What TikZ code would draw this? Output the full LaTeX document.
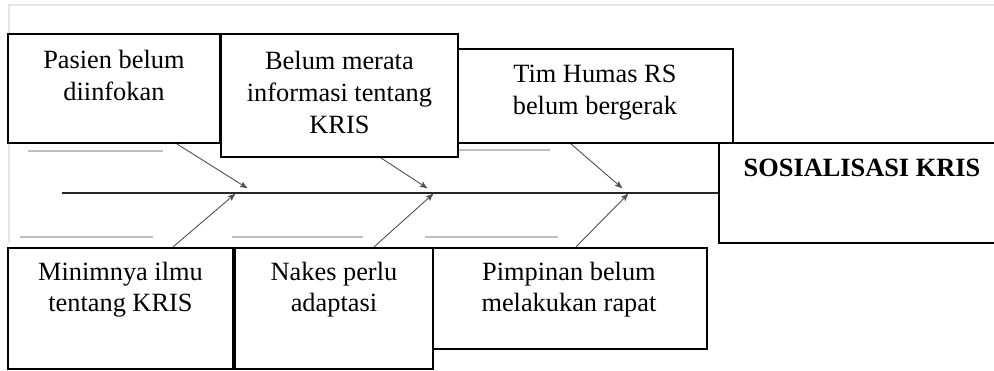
\documentclass[tikz,border=0pt]{standalone}
\usepackage{fontspec}
\setmainfont{Liberation Serif}
\usetikzlibrary{arrows,calc,positioning}

\newcommand{\cell}[1]{\begin{tabular}[t]{@{}c@{}}#1\end{tabular}}

\begin{document}
\begin{tikzpicture}[x=0.02cm,y=-0.02cm,>=stealth',
                    box/.style={draw,line width=1.1pt,fill=white,inner sep=0pt,
                                anchor=north west},
                    cause/.style={font=\fontsize{15}{18}\selectfont,inner sep=0pt,
                                  anchor=base},
                    bone/.style={->,draw=black!70,line width=0.5pt},
                    spine/.style={draw=black!85,line width=0.85pt},
                    ghost/.style={draw=black!25,line width=0.6pt}]

  \path[use as bounding box,clip] (0,0) rectangle (994,371);

  \draw[draw=black!10,line width=0.6pt] (9,243) -- (9,5) -- (994,5);
  \draw[ghost] (28,151) -- (163,151)  (457,150) -- (550,150);
  \draw[ghost] (20,237) -- (153,237)  (232,237) -- (363,237)
               (425,237) -- (558,237);

  \node[box,minimum width=5.52cm,minimum height=1.88cm] (C) at (456,48)  {};
  \node[box,minimum width=4.24cm,minimum height=2.18cm] (A) at (7,33)    {};
  \node[box,minimum width=4.74cm,minimum height=2.46cm] (B) at (220,33)  {};
  \node[box,minimum width=5.76cm,minimum height=2.00cm] (D) at (718,142) {};
  \node[box,minimum width=5.52cm,minimum height=2.02cm] (G) at (430,247) {};
  \node[box,minimum width=4.50cm,minimum height=2.42cm] (E) at (7,247)   {};
  \node[box,minimum width=3.96cm,minimum height=2.42cm] (F) at (234,247) {};

  \node[cause] (tA) at ($(A.north)+(0,36)$) {\cell{Pasien belum\\diinfokan}};
  \node[cause] (tB) at ($(B.north)+(0,37)$) {\cell{Belum merata\\informasi tentang\\KRIS}};
  \node[cause] (tC) at ($(C.north)+(0,35)$) {\cell{Tim Humas RS\\belum bergerak}};
  \node[cause] (tD) at ($(D.north west)+(144,35)$) {\textbf{SOSIALISASI KRIS}};
  \node[cause] (tE) at ($(E.north)+(0,33)$) {\cell{Minimnya ilmu\\tentang KRIS}};
  \node[cause] (tF) at ($(F.north)+(0,33)$) {\cell{Nakes perlu\\adaptasi}};
  \node[cause] (tG) at ($(G.north)+(0,33)$) {\cell{Pimpinan belum\\melakukan rapat}};

  \coordinate (tail) at (62,193);
  \coordinate (u1) at (247,188);
  \coordinate (u2) at (427,188);
  \coordinate (u3) at (622,188);
  \coordinate (l1) at (235,194);
  \coordinate (l2) at (433,194);
  \coordinate (l3) at (628,194);

  \draw[spine] (tail) -- (tail -| D.west);

  \path ($(A.south east)+(-44,0)$) edge[bone] (u1)
        ($(B.south)+(41.5,0)$)     edge[bone] (u2)
        ($(C.south)+(-24,0)$)      edge[bone] (u3)
        ($(E.north)+(52.5,0)$)     edge[bone] (l1)
        ($(F.north)+(40,0)$)       edge[bone] (l2)
        ($(G.north)+(7,0)$)        edge[bone] (l3);
\end{tikzpicture}
\end{document}
